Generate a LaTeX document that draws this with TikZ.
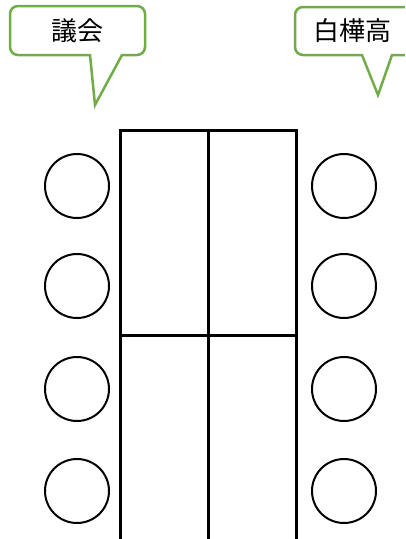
\documentclass[tikz,border=0pt]{standalone}
\usepackage{fontspec}
\newfontfamily\jpfont{Noto Sans CJK JP}
\usepackage{tikz}
\definecolor{bubblegreen}{HTML}{70AD47}

\begin{document}
\begin{tikzpicture}[x=1pt, y=-1pt,
  seat/.style={draw, circle, line width=2pt, minimum size=64pt, inner sep=0pt},
  desk/.style={line width=3pt},
  bubble/.style={draw=bubblegreen, line width=2.5pt, fill=white},
  label/.style={font=\jpfont\fontsize{26}{26}\selectfont, inner sep=0pt}]

\useasboundingbox (0,0) rectangle (405,539);
\clip (0,0) rectangle (405,539);

% Desks (open at the bottom)
\draw[desk] (120,539) -- (120,130) -- (296,130) -- (296,539);
\draw[desk] (208,130) -- (208,539);
\draw[desk] (120,335) -- (296,335);

% Seats on both sides
\foreach \i/\y in {1/186, 2/286, 3/389, 4/491} {
  \node[seat] (left\i) at (77,\y) {};
  \node[seat] (right\i) at (344,\y) {};
}

% Speech bubbles
\draw[bubble] (90,55) [rounded corners=8pt] -- (10,55) -- (10,6) -- (145,6) -- (145,55) [sharp corners] -- (122,55) -- (95,105) -- cycle;
\node[label] (gikai) at (77,31) {議会};

\draw[bubble] (362,55) [rounded corners=8pt] -- (295,55) -- (295,7) -- (415,7) -- (415,55) [sharp corners] -- (392,55) -- (378,95) -- cycle;
\node[label] (shirakaba) at (352,31) {白樺高};

\end{tikzpicture}
\end{document}
